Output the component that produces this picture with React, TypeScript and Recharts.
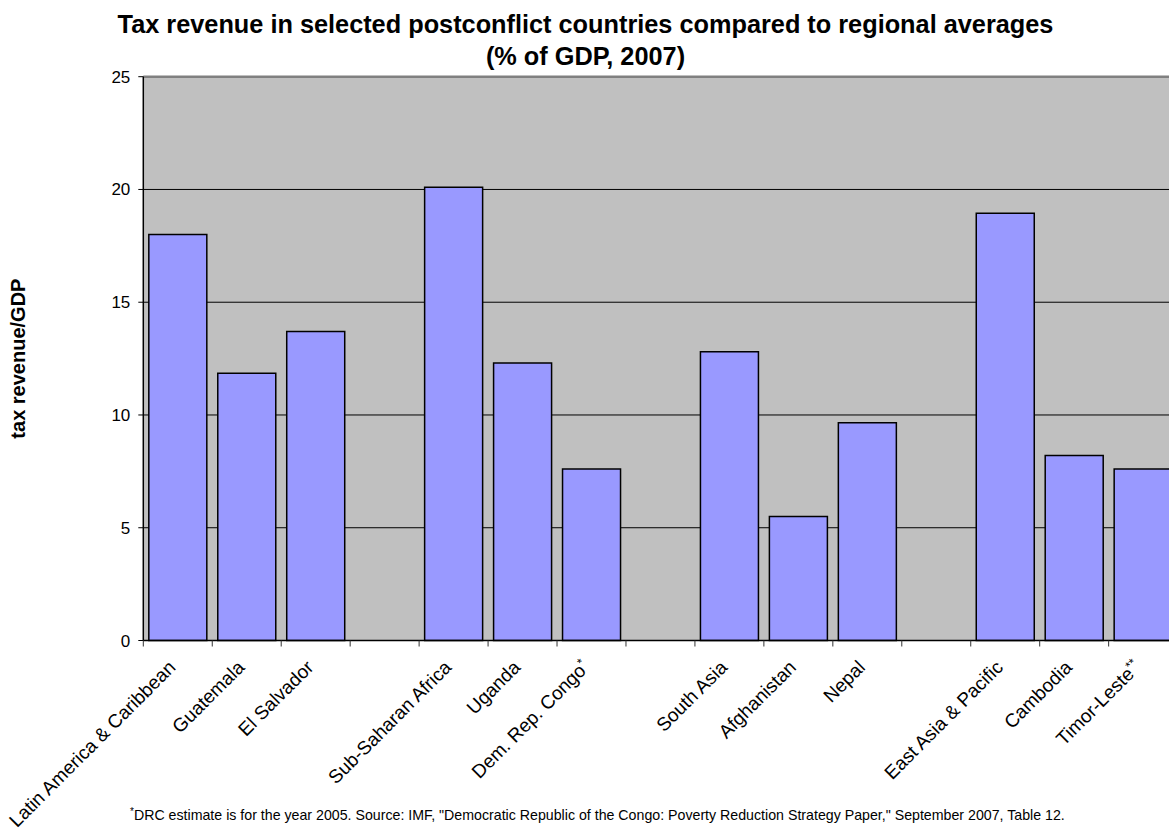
import { BarChart, Bar, XAxis, YAxis, CartesianGrid, ReferenceLine } from "recharts";

const categories = [
  "Latin America & Caribbean",
  "Guatemala",
  "El Salvador",
  "",
  "Sub-Saharan Africa",
  "Uganda",
  "Dem. Rep. Congo*",
  "",
  "South Asia",
  "Afghanistan",
  "Nepal",
  "",
  "East Asia & Pacific",
  "Cambodia",
  "Timor-Leste**",
];

// tax revenue, % of GDP (blank slots separate the regional groups)
const taxRevenue = [18.0, 11.85, 13.7, null, 20.1, 12.3, 7.6, null, 12.8, 5.5, 9.65, null, 18.95, 8.2, 7.6];

const yTicks = [0, 5, 10, 15, 20, 25];

const FONT = '"Liberation Sans", Arial, sans-serif';

const chartData = categories.map((name, i) => ({ name, value: taxRevenue[i] }));

function CategoryTick(props: any) {
  const { x, y, payload, index } = props;
  const half = payload?.offset ?? 34.5;
  const label: string = categories[index] ?? "";
  const m = /^(.*?)(\*+)$/.exec(label);
  const base = m ? m[1] : label;
  const stars = m ? m[2] : "";
  const lx = x - 1;
  const ly = y + 28;
  return (
    <g>
      <line x1={x - half} x2={x - half} y1={y} y2={y + 6} stroke="#333" strokeWidth={1} />
      {label && (
        <text
          x={lx}
          y={ly}
          transform={`rotate(-45 ${lx} ${ly})`}
          textAnchor="end"
          fontSize={19}
          fontFamily={FONT}
          fill="#000"
        >
          {base}
          {stars && (
            <tspan dy={-7} fontSize={12.5}>
              {stars}
            </tspan>
          )}
        </text>
      )}
    </g>
  );
}

export default function App() {
  return (
    <div
      style={{
        position: "absolute",
        left: 0,
        top: 0,
        width: 1169,
        height: 830,
        overflow: "hidden",
        background: "#fff",
      }}
    >
      <BarChart
        width={1200}
        height={830}
        data={chartData}
        margin={{ top: 76.7, right: 22.4, bottom: 159.5, left: 0 }}
        barCategoryGap="8%"
      >
        <CartesianGrid vertical={false} fill="#C0C0C0" stroke="#000" strokeWidth={1} />
        <ReferenceLine y={25} stroke="#808080" strokeWidth={2.5} />
        <XAxis
          dataKey="name"
          height={30}
          interval={0}
          tickSize={0}
          tickMargin={0}
          axisLine={{ stroke: "#000", strokeWidth: 1.5 }}
          tickLine={false}
          tick={<CategoryTick />}
        />
        <YAxis
          width={143.3}
          domain={[0, 25]}
          ticks={yTicks}
          interval={0}
          tickSize={5}
          tickMargin={8}
          axisLine={{ stroke: "#000", strokeWidth: 1.5 }}
          tickLine={{ stroke: "#000" }}
          tick={{ fontSize: 17, fill: "#000", fontFamily: FONT }}
        />
        <Bar dataKey="value" fill="#9999FF" stroke="#000" strokeWidth={1.5} isAnimationActive={false} />
      </BarChart>
      <svg
        width={1169}
        height={830}
        style={{ position: "absolute", left: 0, top: 0, pointerEvents: "none" }}
      >
        <g fontFamily={FONT} fill="#000">
          <text x={585.5} y={32.5} textAnchor="middle" fontSize={25.3} fontWeight="bold">
            Tax revenue in selected postconflict countries compared to regional averages
          </text>
          <text x={585.5} y={65} textAnchor="middle" fontSize={25.3} fontWeight="bold">
            (% of GDP, 2007)
          </text>
          <text
            x={25}
            y={358.6}
            transform="rotate(-90 25 358.6)"
            textAnchor="middle"
            fontSize={20}
            fontWeight="bold"
          >
            tax revenue/GDP
          </text>
          <text x={130} y={820} fontSize={14.2}>
            <tspan fontSize={10} dy={-5}>*</tspan>
            <tspan dy={5}>
              DRC estimate is for the year 2005. Source: IMF, "Democratic Republic of the Congo: Poverty Reduction
              Strategy Paper," September 2007, Table 12.
            </tspan>
          </text>
        </g>
      </svg>
    </div>
  );
}
